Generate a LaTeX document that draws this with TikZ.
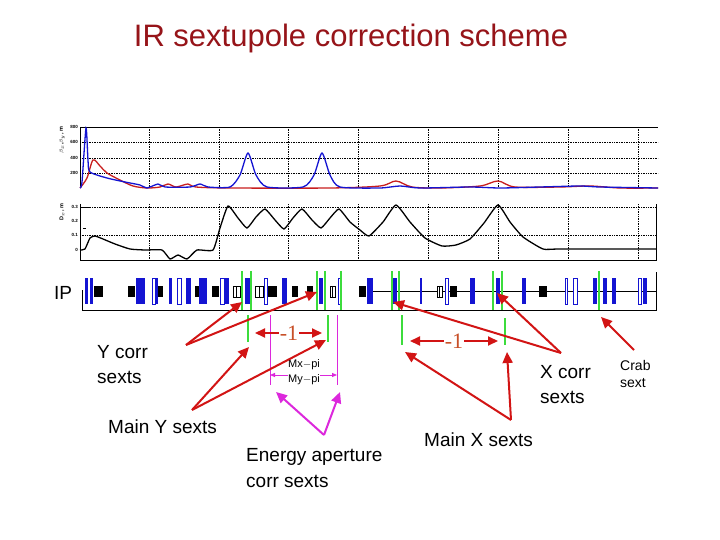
\documentclass[tikz,border=0pt]{standalone}
\usepackage{fontspec}
\setmainfont{Liberation Sans}
\newfontfamily\serifmin{Liberation Serif}
\usetikzlibrary{arrows.meta}
\definecolor{ttl}{RGB}{150,20,25}
\definecolor{lblue}{RGB}{20,20,210}
\definecolor{lred}{RGB}{200,30,30}
\definecolor{lgreen}{RGB}{60,220,60}
\definecolor{lmag}{RGB}{220,40,220}
\definecolor{arr}{RGB}{210,20,20}
\definecolor{minus}{RGB}{200,80,40}
\newcommand{\BBar}[2]{\fill[lblue] (#1,278) rectangle (#2,304);}
\newcommand{\BSq}[2]{\fill[black] (#1,286) rectangle (#2,297);}
\newcommand{\OBar}[2]{\filldraw[draw=lblue,fill=white,line width=0.6pt] (#1,278) rectangle (#2,304);}
\newcommand{\OSq}[2]{\filldraw[draw=black,fill=white,line width=0.6pt] (#1,286) rectangle (#2,297); \draw[line width=0.5pt] ({(#1+#2)/2},286) -- ({(#1+#2)/2},297);}
\newcommand{\GLine}[1]{\draw[lgreen,line width=1.3pt] (#1,271) -- (#1,310);}
\tikzset{
  grid/.style={densely dotted,line width=0.7pt},
  redarrow/.style={arr,line width=2pt,-{Triangle[length=11pt,width=10pt]}},
  magarrow/.style={lmag,line width=2pt,-{Triangle[length=11pt,width=10pt]}},
  label/.style={font=\fontsize{19}{19}\selectfont,anchor=west,inner sep=0pt},
  tick/.style={font=\fontsize{4.5}{4.5}\selectfont\bfseries,inner sep=0pt,anchor=east},
  gmark/.style={lgreen,line width=2pt}
}
\begin{document}
\begin{tikzpicture}[x=1pt,y=-1pt]
\useasboundingbox (0,0) rectangle (720,540);
\fill[white] (0,0) rectangle (720,540);
\node[ttl,font=\fontsize{31}{31}\selectfont] (title) at (351,38) {IR sextupole correction scheme};
% ---- plot 1
\foreach \gx in {149,219,288,358,428,498,568,638} \draw[grid] (\gx,127) -- (\gx,188);
\foreach \gy in {142,158,173} \draw[grid] (80,\gy) -- (658,\gy);
\draw[line width=0.8pt] (80,188) -- (80,127) -- (658,127);
\node[tick] (t800) at (78,127) {800};
\node[tick] (t600) at (78,142) {600};
\node[tick] (t400) at (78,158) {400};
\node[tick] (t200) at (78,173) {200};
\node[rotate=90,font=\fontsize{5.5}{5.5}\selectfont\bfseries] (ylab1) at (62,140) {$\beta_x$,$\beta_y$, m};
\draw[lred,line width=1.3pt] plot[smooth,tension=0.5] coordinates {(80,188) (87,178) (93,160) (100,166) (107,173) (120,180) (133,186) (147,188) (160,187) (168,184) (176,187) (188,184) (196,187) (230,188) (330,188) (380,186) (396,181) (412,187) (440,188) (480,186) (498,181) (515,187) (560,187) (590,186) (620,188) (658,188)};
\draw[lblue,line width=1.3pt] plot[smooth,tension=0.4] coordinates {(80,188) (82,182) (86,128) (88,160) (90,172) (107,178) (125,182) (140,185) (147,188) (158,184) (165,187) (190,187) (200,184) (208,187) (230,187) (240,175) (248,153) (256,175) (267,187) (303,187) (314,175) (322,153) (330,175) (340,187) (380,188) (400,186) (420,188) (470,187) (500,188) (540,187) (580,186) (600,187) (658,188)};
% ---- plot 2
\foreach \gx in {149,219,288,358,428,498,568,638} \draw[grid] (\gx,204) -- (\gx,260);
\foreach \gy in {207,235} \draw[grid] (80,\gy) -- (656,\gy);
\draw[line width=0.8pt] (80,204) -- (80,260) -- (656,260) -- (656,204);
\draw[line width=0.8pt] (80,207) -- (90,207);
\node[tick] (d3) at (78,207) {0.3};
\node[tick] (d2) at (78,221) {0.2};
\node[tick] (d1) at (78,235) {0.1};
\node[tick] (d0) at (78,250) {0};
\draw[line width=0.6pt] (83,228) -- (86,228);
\node[rotate=90,font=\fontsize{5.5}{5.5}\selectfont\bfseries] (ylab2) at (62,212) {D$_x$, m};
\draw[black,line width=1.3pt] plot[smooth,tension=0.3] coordinates {(80,250) (85,249) (90,238) (95,236) (103,239) (115,244) (130,249) (145,250) (162,250) (170,259) (178,255) (187,259) (197,250) (213,250) (220,228) (228,206) (238,218) (247,228) (256,217) (265,209) (275,220) (284,229) (293,218) (302,209) (312,220) (321,228) (330,218) (339,209) (350,222) (360,230) (369,236) (383,222) (396,205) (410,222) (425,238) (442,246) (456,245) (470,239) (484,223) (498,205) (510,222) (523,237) (543,249) (560,249) (656,249)};
% ---- lattice
\draw[line width=0.8pt] (82,290) -- (82,310) -- (656,310) -- (656,272);
\draw[line width=0.6pt] (373,291) -- (656,291);
\node[font=\fontsize{19}{19}\selectfont,inner sep=0pt] (ip) at (63,293) {IP};
\BBar{85}{88} \BBar{90}{93} \BSq{94}{103}
\BSq{128}{135} \BBar{136}{145}
\OBar{152}{155} \BBar{156}{158} \BSq{158}{163}
\BBar{169}{172} \OBar{177}{181} \BBar{186}{191}
\BSq{195}{200} \BBar{199}{207}
\BSq{212}{219} \OBar{220}{224} \BBar{225}{229}
\OSq{233}{240} \BBar{245}{250}
\OSq{255}{263} \OBar{264}{267} \BSq{268}{277}
\BBar{282}{287} \BSq{292}{298} \BSq{307}{313}
\BBar{319}{323} \OSq{330}{335} \OBar{338}{341}
\BSq{359}{366} \BBar{367}{373}
\BBar{370}{373} \BBar{393}{397} \BBar{420}{422}
\OSq{437}{442} \OBar{445}{448} \BSq{450}{457}
\BBar{470}{475} \BBar{496}{500} \BBar{522}{526}
\BSq{539}{547}
\OBar{565}{567} \OBar{573}{577}
\BBar{593}{597} \BBar{603}{607} \BBar{612}{616}
\OBar{638}{641} \BBar{643}{647}
\GLine{242} \GLine{251} \GLine{317} \GLine{325} \GLine{341}
\GLine{392} \GLine{399} \GLine{493} \GLine{502} \GLine{599}
% ---- green markers, magenta
\draw[gmark] (248,315) -- (248,342);
\draw[gmark] (328,315) -- (328,342);
\draw[gmark] (402,315) -- (402,345);
\draw[gmark] (505,318) -- (505,345);
\draw[lmag,line width=0.8pt] (270,315) -- (270,385);
\draw[lmag,line width=0.8pt] (337,315) -- (337,385);
\draw[lmag,line width=0.8pt,{Triangle[length=5pt,width=4pt]}-{Triangle[length=5pt,width=4pt]}] (270,375) -- (337,375);
\node[font=\fontsize{11}{11}\selectfont,inner sep=0pt,fill=white] (mx) at (304,365) {Mx$-$pi};
\node[font=\fontsize{11}{11}\selectfont,inner sep=0pt,fill=white] (my) at (304,380) {My$-$pi};
\draw[arr,line width=2pt,{Triangle[length=10pt,width=9pt]}-{Triangle[length=10pt,width=9pt]}] (255,333) -- (322,333);
\node[minus,fill=white,font=\fontsize{22}{22}\selectfont\serifmin,inner sep=1pt] (m1) at (289,333) {-1};
\draw[arr,line width=2pt,{Triangle[length=10pt,width=9pt]}-{Triangle[length=10pt,width=9pt]}] (410,341) -- (498,341);
\node[minus,fill=white,font=\fontsize{22}{22}\selectfont\serifmin,inner sep=1pt] (m2) at (454,341) {-1};
% ---- labels
\node[label] (yc1) at (97,352) {Y corr};
\node[label] (yc2) at (97,377) {sexts};
\node[label] (my1) at (108,427) {Main Y sexts};
\node[label] (ea1) at (246,457) {Energy aperture};
\node[label] (ea2) at (246,481) {corr sexts};
\node[label] (mx1) at (424,440) {Main X sexts};
\node[label] (xc1) at (540,372) {X corr};
\node[label] (xc2) at (540,397) {sexts};
\node[label,font=\fontsize{14}{14}\selectfont] (cr1) at (620,365) {Crab};
\node[label,font=\fontsize{14}{14}\selectfont] (cr2) at (620,383) {sext};
% ---- arrows
\coordinate (ycT) at (186,345);
\coordinate (ycA) at (242,302); \coordinate (ycB) at (317,292);
\coordinate (myT) at (192,410);
\coordinate (myA) at (249,347); \coordinate (myB) at (326,340);
\coordinate (eaT) at (324,435);
\coordinate (eaA) at (276,392); \coordinate (eaB) at (340,392);
\coordinate (mxT) at (511,420);
\coordinate (mxA) at (405,352); \coordinate (mxB) at (507,352);
\coordinate (xcT) at (561,353);
\coordinate (xcA) at (393,302); \coordinate (xcB) at (497,293);
\coordinate (crT) at (634,350); \coordinate (crA) at (601,317);
\draw[redarrow] (ycT) -- (ycA); \draw[redarrow] (ycT) -- (ycB);
\draw[redarrow] (myT) -- (myA); \draw[redarrow] (myT) -- (myB);
\draw[magarrow] (eaT) -- (eaA); \draw[magarrow] (eaT) -- (eaB);
\draw[redarrow] (mxT) -- (mxA); \draw[redarrow] (mxT) -- (mxB);
\draw[redarrow] (xcT) -- (xcA); \draw[redarrow] (xcT) -- (xcB);
\draw[redarrow] (crT) -- (crA);
\end{tikzpicture}
\end{document}
